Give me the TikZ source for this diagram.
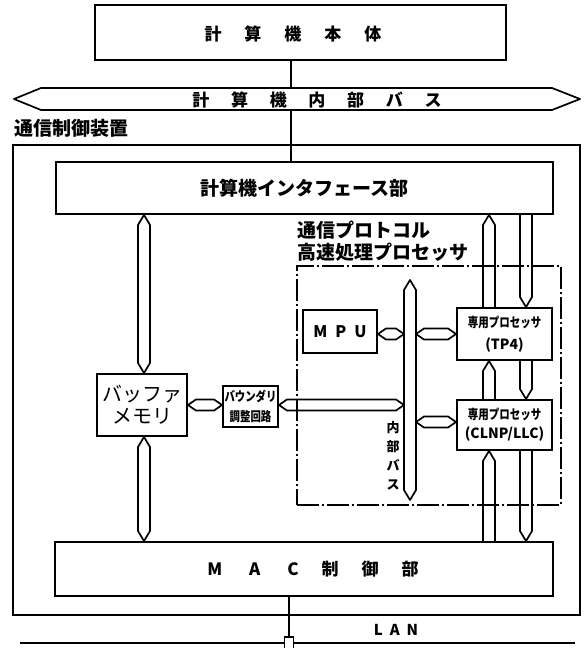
\documentclass[tikz,border=0pt]{standalone}
\usepackage{fontspec}
\usepackage{graphicx}
\setmainfont{Noto Sans CJK JP}
\usetikzlibrary{calc}
\tikzset{
  box/.style={draw, line width=1.9pt, inner sep=0pt},
  bus/.style={draw, line width=1.7pt, line join=round},
  wire/.style={draw, line width=1.6pt},
  dashbox/.style={draw, line width=2pt, dash pattern=on 22pt off 3pt on 2pt off 3pt},
  bigtxt/.style={font=\fontsize{17}{17}\selectfont\bfseries, inner sep=0pt},
  lbl/.style={font=\fontsize{19}{19}\selectfont\bfseries, inner sep=0pt},
}
\newcommand\vbusBoth[3]{\draw[bus] let \p1=(#1),\p2=(#2),\p3=(#3) in (\x1,\y2) -- (\x1+6pt,\y2-10pt) -- (\x1+6pt,\y3+10pt) -- (\x1,\y3) -- (\x1-6pt,\y3+10pt) -- (\x1-6pt,\y2-10pt) -- cycle;}
\newcommand\vbusUp[3]{\draw[bus] let \p1=(#1),\p2=(#2),\p3=(#3) in (\x1-6pt,\y3) -- (\x1-6pt,\y2-10pt) -- (\x1,\y2) -- (\x1+6pt,\y2-10pt) -- (\x1+6pt,\y3);}
\newcommand\vbusDown[3]{\draw[bus] let \p1=(#1),\p2=(#2),\p3=(#3) in (\x1-6pt,\y2) -- (\x1-6pt,\y3+10pt) -- (\x1,\y3) -- (\x1+6pt,\y3+10pt) -- (\x1+6pt,\y2);}
\newcommand\hbusBoth[3]{\draw[bus] let \p1=(#1),\p2=(#2),\p3=(#3) in (\x2,\y1) -- (\x2+8pt,\y1+5.5pt) -- (\x3-8pt,\y1+5.5pt) -- (\x3,\y1) -- (\x3-8pt,\y1-5.5pt) -- (\x2+8pt,\y1-5.5pt) -- cycle;}
\begin{document}
\begin{tikzpicture}[x=1pt,y=-1pt]
\fill[white] (0,0) rectangle (584,648);
\useasboundingbox (0,0) rectangle (584,648);

% top computer box
\node[box, minimum width=411pt, minimum height=55pt] (top) at (300.5,32.5) {};
\node[bigtxt] (topT) at (293,34) {計\hspace{23pt}算\hspace{23pt}機\hspace{23pt}本\hspace{23pt}体};

% computer internal bus
\coordinate (cbL) at (14,99);
\coordinate (cbR) at (580,99);
\draw[bus] (cbL) -- ($(cbL)+(27,-11)$) -- ($(cbR)+(-28,-11)$) -- (cbR) -- ($(cbR)+(-28,11)$) -- ($(cbL)+(27,11)$) -- cycle;
\node[bigtxt] (cbT) at (317,100) {計\hspace{21.7pt}算\hspace{21.7pt}機\hspace{21.7pt}内\hspace{21.7pt}部\hspace{21.7pt}バ\hspace{21.7pt}ス};
\coordinate (busTop) at (291,88);
\coordinate (busBot) at (291,110);

% outer device
\node[box, line width=2pt, minimum width=567pt, minimum height=470pt] (outer) at (296.5,380) {};
\node[lbl, anchor=west] (outerT) at (14,128) {通信制御装置};

% interface
\node[box, minimum width=497pt, minimum height=52pt, lbl] (iface) at (304.5,188) {計算機インタフェース部};

% buffer memory
\node[box, minimum width=90pt, minimum height=62pt, align=center, font=\fontsize{20}{22}\selectfont] (buf) at (142,405) {バッファ\\メモリ};

% boundary adjust circuit
\node[box, minimum width=55pt, minimum height=41pt, align=center, font=\fontsize{13}{20}\selectfont\bfseries] (bnd) at (250.5,406.5) {\scalebox{0.8}[1]{バウンダリ}\\\scalebox{0.8}[1]{調整回路}};

% protocol processor (dash-dot)
\node[dashbox, minimum width=264pt, minimum height=239pt, inner sep=0pt] (pp) at (429,385.5) {};
\node[lbl, anchor=west] (ppT1) at (297,230) {通信プロトコル};
\node[lbl, anchor=west] (ppT2) at (297,252) {高速処理プロセッサ};

% MPU
\node[box, minimum width=74pt, minimum height=43pt, font=\fontsize{16}{16}\selectfont\bfseries] (mpu) at (340,331.5) {M\hspace{8pt}P\hspace{8pt}U};

% dedicated processors
\node[box, minimum width=95pt, minimum height=52pt, align=center, font=\fontsize{14}{22}\selectfont\bfseries] (tp4) at (504.5,334) {\scalebox{0.75}[0.95]{専用プロセッサ}\\(TP4)};
\node[box, minimum width=95pt, minimum height=50pt, align=center, font=\fontsize{14}{19}\selectfont\bfseries] (clnp) at (504.5,425) {\scalebox{0.75}[0.95]{専用プロセッサ}\\(CLNP/LLC)};

% MAC
\node[box, minimum width=498pt, minimum height=54pt] (mac) at (304,569) {};
\node[bigtxt] (macT) at (313,569) {M\hspace{27pt}A\hspace{27pt}C\hspace{23pt}制\hspace{23pt}御\hspace{23pt}部};

% inner bus
\coordinate (xI) at (410,0);
\coordinate (ibT) at (410,280);
\coordinate (ibB) at (410,500);
\coordinate (ibW) at (404,0);
\coordinate (ibE) at (416,0);
\vbusBoth{xI}{ibT}{ibB}
\node[font=\fontsize{13}{19}\selectfont\bfseries, align=center, inner sep=0pt] (ibLab) at (393,456) {内\\部\\バ\\ス};

% vertical buses
\coordinate (xL) at (144,0);
\coordinate (xA) at (489,0);
\coordinate (xB) at (526,0);
\vbusBoth{xL}{iface.south}{buf.north}
\vbusBoth{xL}{buf.south}{mac.north}
\vbusUp{xA}{iface.south}{tp4.north}
\vbusUp{xA}{tp4.south}{clnp.north}
\vbusUp{xA}{clnp.south}{mac.north}
\vbusDown{xB}{iface.south}{tp4.north}
\vbusDown{xB}{tp4.south}{clnp.north}
\vbusDown{xB}{clnp.south}{mac.north}

% horizontal buses
\coordinate (yB) at (0,405);
\coordinate (yM) at (0,334);
\coordinate (yC) at (0,422);
\hbusBoth{yB}{buf.east}{bnd.west}
\hbusBoth{yB}{bnd.east}{ibW}
\hbusBoth{yM}{mpu.east}{ibW}
\hbusBoth{yM}{ibE}{tp4.west}
\hbusBoth{yC}{ibE}{clnp.west}

% connectors to computer
\draw[wire] (top.south -| busTop) -- (busTop);
\draw[wire] (busBot) -- (iface.north -| busBot);

% LAN
\coordinate (lanL) at (20,643);
\coordinate (lanR) at (575,643);
\draw[wire, line width=1.8pt] (lanL) -- (lanR);
\node[draw, line width=1.5pt, fill=white, minimum width=9pt, minimum height=12pt, inner sep=0pt] (tap) at (289,643) {};
\draw[wire] (mac.south -| tap) -- (tap.north);
\node[font=\fontsize{15}{15}\selectfont\bfseries, inner sep=0pt] (lanT) at (396,630) {L\hspace{7pt}A\hspace{7pt}N};
\end{tikzpicture}
\end{document}
